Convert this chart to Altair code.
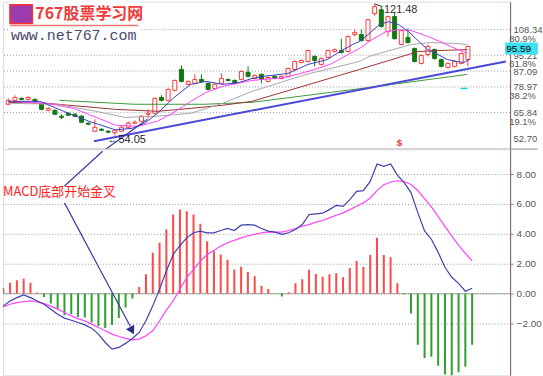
import altair as alt
import pandas as pd

# ---------------- data ----------------
candle_idx = list(range(70))
opens = [70.1, 72.1, 73.1, 72.6, 72.6, 70.1, 67.0, 67.0, 64.0, 65.5,
         65.0, 64.0, 60.4, 56.3, 57.3, 56.3, 55.6, 56.3, 58.3, 60.4,
         61.4, 65.0, 65.5, 73.6, 72.1, 77.2, 87.9, 80.3, 80.8, 82.8,
         80.8, 78.2, 80.8, 82.8, 82.3, 82.8, 86.4, 83.3, 85.4, 81.8,
         84.4, 83.3, 84.4, 87.9, 91.5, 92.0, 94.6, 90.5, 94.1, 97.1,
         97.6, 97.1, 105.8, 105.8, 102.7, 116.5, 118.5, 107.3, 115.0, 100.7,
         104.3, 98.6, 91.0, 95.6, 98.1, 93.0, 89.0, 89.5, 91.0, 93.0]
highs = [73.1, 74.7, 73.6, 74.2, 73.1, 70.6, 68.5, 67.5, 65.0, 66.0,
         65.5, 64.5, 60.9, 62.4, 57.8, 56.8, 57.3, 58.9, 61.4, 61.9,
         64.5, 67.5, 73.6, 74.7, 78.2, 82.8, 90.0, 82.3, 85.4, 85.4,
         81.3, 80.8, 85.9, 83.3, 82.8, 87.4, 89.5, 85.4, 85.9, 84.4,
         84.9, 84.9, 88.9, 92.5, 93.0, 98.1, 95.1, 94.1, 98.1, 98.6,
         103.7, 105.3, 108.3, 108.3, 113.9, 121.48, 120.1, 115.5, 117.5, 108.3,
         108.9, 99.2, 95.6, 100.7, 98.6, 93.5, 91.5, 92.5, 96.6, 100.2]
lows = [69.6, 71.6, 72.1, 72.1, 71.1, 67.0, 66.5, 64.5, 62.4, 64.0,
        63.4, 60.4, 59.4, 55.8, 56.3, 55.3, 54.05, 55.8, 57.8, 59.9,
        60.9, 62.9, 65.0, 71.6, 71.6, 76.7, 81.3, 79.8, 80.3, 81.3,
        77.2, 77.7, 80.3, 81.8, 80.3, 82.3, 83.8, 82.8, 80.8, 81.3,
        82.8, 82.8, 83.8, 87.4, 91.0, 91.5, 89.5, 90.0, 93.5, 96.6,
        96.1, 96.6, 104.8, 102.2, 102.2, 115.5, 109.4, 104.8, 103.2, 100.2,
        101.2, 91.5, 90.5, 94.6, 93.0, 89.0, 88.4, 89.0, 90.5, 89.5]
closes = [72.1, 73.6, 72.6, 73.6, 71.6, 67.5, 68.0, 65.0, 63.4, 64.5,
          64.0, 60.9, 59.9, 58.3, 56.8, 55.8, 56.8, 58.3, 60.4, 60.9,
          64.0, 65.5, 73.1, 72.1, 77.7, 82.3, 81.8, 81.8, 82.8, 81.8,
          77.7, 80.3, 83.3, 82.3, 80.8, 86.9, 84.4, 84.9, 82.8, 83.8,
          83.3, 84.4, 88.4, 92.0, 92.5, 97.6, 92.5, 93.5, 97.6, 98.1,
          96.6, 104.8, 106.8, 102.7, 113.4, 120.1, 109.9, 115.0, 103.7, 107.8,
          101.7, 92.0, 95.1, 99.7, 93.5, 89.5, 91.0, 92.0, 96.1, 99.7]

ma5_i = [0, 4.8, 8.3, 12.1, 16.1, 18.6, 20.5, 22.4, 24.9, 27.4, 29.7, 32.2, 34.7, 36.6,
         38.1, 42.0, 45.0, 47.9, 49.8, 51.7, 52.7, 54.2, 55.7, 57.1, 58.6, 60.1, 61.5,
         63.0, 64.5, 65.9, 67.4, 68.4, 69.2]
ma5_p = [71.6, 71.6, 66.5, 61.4, 57.0, 57.8, 60.4, 65.5, 73.6, 80.3, 81.8, 80.3, 81.3, 83.3,
         84.3, 85.9, 90.5, 93.0, 97.1, 100.7, 102.2, 106.3, 110.9, 112.4, 110.9, 107.3, 102.7,
         98.1, 95.6, 93.0, 92.0, 91.5, 93.0]
ma10_i = [0, 5.8, 9.8, 13.2, 16.1, 19.5, 22.4, 24.9, 27.4, 29.7, 32.2, 36.6, 41.5, 45.0,
          48.3, 51.3, 52.7, 54.6, 56.7, 58.6, 60.5, 62.6, 64.5, 66.4, 68.9]
ma10_p = [71.6, 70.6, 68.0, 63.4, 59.4, 58.8, 61.4, 66.0, 71.6, 76.2, 79.3, 82.3, 83.8, 86.9,
          90.5, 96.1, 98.6, 103.2, 107.3, 108.3, 107.8, 105.3, 102.7, 99.7, 96.1]
ma20_i = [0, 7.3, 13.2, 17.5, 22.4, 27.4, 32.2, 36.6, 44.7, 52.7, 54.2, 56.7, 60.5, 63.4, 67.4, 68.9]
ma20_p = [70.6, 70.1, 66.5, 63.4, 64.0, 65.5, 70.6, 76.7, 85.4, 92.0, 94.6, 97.1, 100.7, 101.7, 101.2, 100.7]
ma30_i = [0, 5.8, 16.1, 22.4, 27.4, 32.2, 36.6, 44.7, 52.7, 57.6, 61.5, 64.5, 68.9]
ma30_p = [71.1, 70.6, 67.5, 66.5, 68.0, 69.6, 71.6, 79.8, 87.9, 93.0, 97.1, 97.6, 98.1]
ma60_i = [7.7, 19.0, 29.3, 36.6, 54.2, 68.9]
ma60_p = [72.1, 70.1, 70.1, 71.1, 78.7, 85.4]
trend_i = [12.86, 74.7]
trend_p = [51.2, 92.0]

price_levels = [108.34, 95.21, 87.09, 78.97, 65.84, 52.70]
grid_levels = [108.34, 95.21, 87.09, 78.97, 65.84]
fib_levels = [108.34, 95.21, 78.97, 65.84]
fib_labels = ["80.9%", "61.8%", "38.2%", "19.1%"]
last_price = 95.59
high_price = 121.48
low_price = 54.05

dif = [-0.82, -0.49, -0.27, -0.09, -0.27, -0.49, -0.71, -1.04, -1.38, -1.64,
       -1.78, -1.93, -2.09, -2.31, -2.71, -3.27, -3.71, -3.6, -3.33, -3.0,
       -2.6, -1.82, -0.82, 0.3, 1.51, 2.62, 3.22, 3.73, 4.07, 4.18,
       4.07, 4.07, 4.22, 4.36, 4.22, 4.58, 4.62, 4.58, 4.36, 4.18,
       4.11, 3.96, 4.07, 4.29, 4.62, 5.29, 5.33, 5.38, 5.62, 5.91,
       5.84, 6.29, 6.84, 6.89, 7.51, 8.67, 8.51, 8.67, 7.93, 7.42,
       6.76, 5.42, 4.2, 3.64, 2.76, 1.76, 1.09, 0.69, 0.16, 0.36]
dea = [-0.89, -0.71, -0.6, -0.53, -0.49, -0.56, -0.67, -0.84, -1.04, -1.27,
       -1.49, -1.67, -1.82, -2.04, -2.27, -2.49, -2.71, -2.87, -3.0, -3.09,
       -3.04, -2.82, -2.49, -1.82, -1.11, -0.49, 0.29, 1.07, 1.62, 2.18,
       2.62, 2.89, 3.18, 3.4, 3.56, 3.73, 3.87, 3.96, 4.07, 4.13,
       4.11, 4.11, 4.22, 4.36, 4.51, 4.62, 4.78, 4.89, 5.07, 5.24,
       5.4, 5.62, 5.84, 6.07, 6.4, 6.89, 7.29, 7.47, 7.55, 7.5,
       7.3, 6.9, 6.35, 5.8, 5.15, 4.5, 3.85, 3.25, 2.7, 2.2]
macd_hist = [0.4, 0.73, 0.89, 1.0, 0.73, 0.07, -0.22, -0.67, -1.04, -1.44,
             -1.38, -1.56, -1.6, -1.93, -2.16, -2.3, -2.1, -1.64, -0.93, -0.33,
             0.44, 1.29, 2.73, 3.4, 4.29, 5.29, 5.62, 5.51, 5.29, 4.67,
             3.51, 2.84, 2.62, 2.27, 1.62, 1.8, 1.44, 1.16, 0.53, 0.31,
             0.0, -0.2, 0.09, 0.69, 0.96, 1.6, 1.31, 1.13, 1.29, 1.36,
             1.09, 1.71, 2.18, 1.78, 2.58, 3.73, 2.58, 2.44, 0.69, -0.04,
             -1.33, -3.42, -4.31, -4.22, -4.82, -5.42, -5.51, -5.27, -4.89, -3.42]
macd_ticks = [-2, 0, 2, 4, 6, 8]

# ---------------- styling ----------------
RED = "#ff3b3b"
GREEN = "#127812"
X_DOM = [-0.044, 74.59]
P_DOM = [47.12, 122.63]
V_DOM = [-5.467, 9.667]
LABEL_I = 75.2
RIGHT_EDGE_I = 79.5

x_scale = alt.Scale(domain=X_DOM, nice=False, zero=False)
p_scale = alt.Scale(domain=P_DOM, nice=False, zero=False)
v_scale = alt.Scale(domain=V_DOM, nice=False, zero=False)

top_x_axis = alt.Axis(labels=False, ticks=False, grid=False, domain=False, title=None)
top_y_axis = alt.Axis(orient="right", values=price_levels, format=".2f", grid=False,
                      ticks=False, labelPadding=3, labelFontSize=9.5, labelColor="#555555",
                      domainColor="#805a50", title=None, labelOverlap=False)
XT = alt.X("i:Q", scale=x_scale, axis=top_x_axis)
YT = alt.Y("p:Q", scale=p_scale, axis=top_y_axis)

bot_y_axis = alt.Axis(orient="right", values=macd_ticks, format=".2f", grid=True,
                      gridDash=[1, 2], gridColor="#9a9a9a", ticks=True, tickSize=3,
                      tickColor="#888888", labelPadding=3, labelFontSize=10,
                      labelColor="#555555", domainColor="#805a50", title=None,
                      labelOverlap=False)
XB = alt.X("i:Q", scale=x_scale, axis=None)
YB = alt.Y("v:Q", scale=v_scale, axis=bot_y_axis)


def top_line(xs, ps, color, width=1.0):
    return alt.Chart(pd.DataFrame({"i": xs, "p": ps})).mark_line(
        color=color, strokeWidth=width, clip=True).encode(x=XT, y=YT)


# ---------------- top (candles) ----------------
cdf = pd.DataFrame({"i": candle_idx, "o": opens, "h": highs, "l": lows, "c": closes})
up = cdf["c"] >= cdf["o"]
cdf["col"] = [RED if u else GREEN for u in up]
cdf["fillc"] = ["white" if u else GREEN for u in up]
body = pd.DataFrame({"i": cdf["i"], "p": cdf["o"], "p2": cdf["c"], "col": cdf["col"], "fillc": cdf["fillc"]})
wick = pd.DataFrame({"i": cdf["i"], "p": cdf["l"], "p2": cdf["h"], "col": cdf["col"]})

grid_top = alt.Chart(pd.DataFrame({"p": grid_levels})).mark_rule(
    color="#9a9a9a", strokeDash=[1, 2], strokeWidth=1).encode(y=YT)

separator = alt.Chart(pd.DataFrame({"i": [X_DOM[0]], "i2": [RIGHT_EDGE_I], "p": [P_DOM[0]]})).mark_rule(
    color="#8c8c8c", strokeWidth=1).encode(x=XT, x2=alt.X2("i2"), y=YT)

logo_bg = alt.Chart(pd.DataFrame({"i": [X_DOM[0]], "i2": [19.9], "p": [P_DOM[1]], "p2": [102.2]})).mark_rect(
    color="white").encode(x=XT, x2=alt.X2("i2"), y=YT, y2=alt.Y2("p2"))

wicks = alt.Chart(wick).mark_rule(strokeWidth=1, clip=True).encode(
    x=XT, y=YT, y2=alt.Y2("p2"), color=alt.Color("col:N", scale=None))
bodies = alt.Chart(body).mark_bar(width=4, strokeWidth=1, clip=True).encode(
    x=XT, y=YT, y2=alt.Y2("p2"),
    fill=alt.Fill("fillc:N", scale=None), stroke=alt.Stroke("col:N", scale=None))

ma60 = top_line(ma60_i, ma60_p, "#3c9a3c")
ma30 = top_line(ma30_i, ma30_p, "#a03232")
ma20 = top_line(ma20_i, ma20_p, "#a8a8a8")
ma10 = top_line(ma10_i, ma10_p, "#ff44ff")
ma5 = top_line(ma5_i, ma5_p, "#3c3cc0")
trend = top_line(trend_i, trend_p, "#4a4ad8", 2)

ann_top = top_line([20.9, 14.62], [62.4, P_DOM[0]], "#3a3aa8", 1.2)

fib_text = alt.Chart(pd.DataFrame({"i": [LABEL_I] * 4, "p": fib_levels, "t": fib_labels})).mark_text(
    align="left", baseline="middle", dy=9, fontSize=9.5, color="#555555").encode(x=XT, y=YT, text="t:N")

last_box = alt.Chart(pd.DataFrame({"i": [X_DOM[1]], "i2": [RIGHT_EDGE_I], "p": [last_price], "p2": [last_price]})).mark_rect(
    color="#3fe0f2", y2Offset=-12).encode(x=XT, x2=alt.X2("i2"), y=YT, y2=alt.Y2("p2"))
last_text = alt.Chart(pd.DataFrame({"i": [74.75], "p": [last_price], "t": [f"{last_price:.2f}"]})).mark_text(
    align="left", baseline="middle", dy=-6, fontSize=10, color="black").encode(x=XT, y=YT, text="t:N")

hi_link = alt.Chart(pd.DataFrame({"i": [55], "i2": [56.2], "p": [high_price], "p2": [120.1]})).mark_rule(
    color="#333333").encode(x=XT, x2=alt.X2("i2"), y=YT, y2=alt.Y2("p2"))
hi_text = alt.Chart(pd.DataFrame({"i": [56.4], "p": [118.5], "t": [f"{high_price:.2f}"]})).mark_text(
    align="left", baseline="middle", fontSize=11, color="#333333").encode(x=XT, y=YT, text="t:N")
lo_text = alt.Chart(pd.DataFrame({"i": [14.9], "p": [51.7], "t": [f"\u2190{low_price:.2f}"]})).mark_text(
    align="left", baseline="middle", fontSize=11, color="#222222").encode(x=XT, y=YT, text="t:N")
dollar = alt.Chart(pd.DataFrame({"i": [58.75], "p": [50.2], "t": ["$"]})).mark_text(
    align="center", baseline="middle", fontSize=10, fontWeight="bold", color="#ff3030").encode(x=XT, y=YT, text="t:N")
cyan_dash = alt.Chart(pd.DataFrame({"i": [67.9], "i2": [68.9], "p": [78.2]})).mark_rule(
    color="#00d8e8", strokeWidth=1.5).encode(x=XT, x2=alt.X2("i2"), y=YT)

icon = alt.Chart(pd.DataFrame({"i": [0.25], "i2": [3.62], "p": [121.1], "p2": [111.4]})).mark_rect(
    fill="#9a3cae", stroke="#ff3030", strokeWidth=1.5).encode(x=XT, x2=alt.X2("i2"), y=YT, y2=alt.Y2("p2"))
underline = alt.Chart(pd.DataFrame({"i": [0.25], "i2": [19.5], "p": [110.4]})).mark_rule(
    color="#f07878", strokeWidth=1.5).encode(x=XT, x2=alt.X2("i2"), y=YT)
brand = alt.Chart(pd.DataFrame({"i": [4.06], "p": [116.5], "t": ["767股票学习网"]})).mark_text(
    align="left", baseline="middle", fontSize=16, fontWeight="bold", color="#f03a3a",
    font="Noto Sans CJK SC").encode(x=XT, y=YT, text="t:N")
site = alt.Chart(pd.DataFrame({"i": [0.4], "p": [105.8], "t": ["www.net767.com"]})).mark_text(
    align="left", baseline="middle", fontSize=15, color="#4a4a6a",
    font="Liberation Mono").encode(x=XT, y=YT, text="t:N")

top = alt.layer(
    grid_top, logo_bg, wicks, bodies, ma60, ma30, ma20, trend, ma10, ma5, ann_top,
    fib_text, last_box, last_text, hi_link, hi_text, lo_text, dollar, cyan_dash,
    icon, underline, brand, site, separator,
).properties(width=509, height=148)

# ---------------- bottom (MACD) ----------------
hdf = pd.DataFrame({"i": candle_idx, "v": [0.0] * 70, "v2": macd_hist,
                    "col": ["#ff4848" if h >= 0 else "#2ea02e" for h in macd_hist]})
zero = alt.Chart(pd.DataFrame({"v": [0.0]})).mark_rule(color="#a8a8a8").encode(y=YB)
hist = alt.Chart(hdf).mark_rule(strokeWidth=2, clip=True).encode(
    x=XB, y=YB, y2=alt.Y2("v2"), color=alt.Color("col:N", scale=None))
dif_line = alt.Chart(pd.DataFrame({"i": candle_idx, "v": dif})).mark_line(
    color="#4040b0", strokeWidth=1.2).encode(x=XB, y=YB)
dea_line = alt.Chart(pd.DataFrame({"i": candle_idx, "v": dea})).mark_line(
    color="#ff44ff", strokeWidth=1.2).encode(x=XB, y=YB)

ann_df = pd.DataFrame({"i": [14.62, 9.0, 9.0, 18.7], "v": [9.53, 7.2, 6.07, -2.2],
                       "seg": ["a", "a", "b", "b"]})
ann_lines = alt.Chart(ann_df).mark_line(color="#3a3aa8", strokeWidth=1.2).encode(
    x=XB, y=YB, detail="seg:N")
ann_head = alt.Chart(pd.DataFrame({"i": [18.85], "v": [-2.4]})).mark_point(
    shape="triangle", angle=152, filled=True, size=90, color="#2c2c8c", opacity=1).encode(x=XB, y=YB)
ann_text = alt.Chart(pd.DataFrame({"i": [X_DOM[0]], "v": [6.8], "t": ["MACD底部开始金叉"]})).mark_text(
    align="left", baseline="middle", fontSize=13, color="#ff2020",
    font="Noto Sans CJK SC").encode(x=XB, y=YB, text="t:N")

bottom = alt.layer(zero, hist, dea_line, dif_line, ann_lines, ann_head, ann_text).properties(
    width=509, height=227)

chart = alt.vconcat(top, bottom, spacing=0, bounds="flush").resolve_scale(
    x="independent", y="independent").properties(padding=0, background="white").configure_view(
    strokeWidth=0).configure(font="Liberation Sans")

chart.save("out.html", embed_options={"renderer": "svg", "actions": False})
